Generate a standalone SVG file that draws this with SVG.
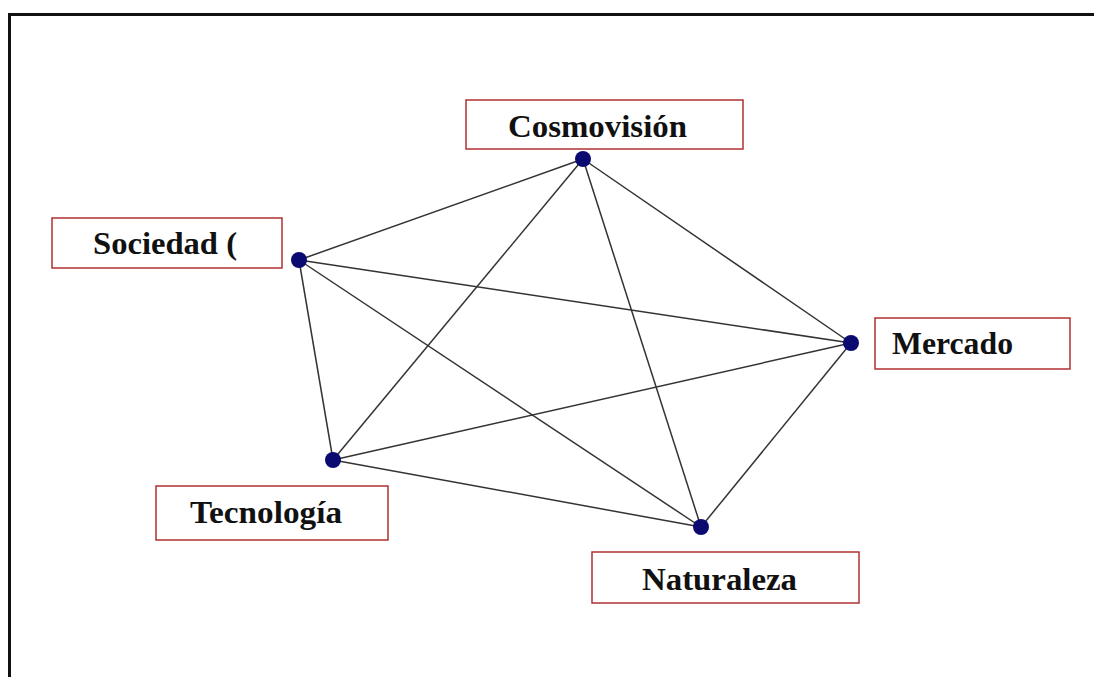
<svg xmlns="http://www.w3.org/2000/svg" width="1094" height="677" viewBox="0 0 1094 677">
<style>
.box{fill:#ffffff;stroke:#b03030;stroke-width:1.5}
.lbl{font-family:"Liberation Serif","Times New Roman",serif;font-weight:bold;font-size:31px;fill:#111}
.edge{stroke:#333;stroke-width:1.5;fill:none}
.dot{fill:#0a0a70}
</style>
<rect x="0" y="0" width="1094" height="677" fill="#ffffff"/>
<path d="M9.5 677 V14.5 H1094" fill="none" stroke="#111" stroke-width="3"/>
<g id="connectors">
<line class="edge" x1="583" y1="159" x2="299" y2="260"/>
<line class="edge" x1="583" y1="159" x2="333" y2="460"/>
<line class="edge" x1="583" y1="159" x2="701" y2="527"/>
<line class="edge" x1="583" y1="159" x2="851" y2="343"/>
<line class="edge" x1="299" y1="260" x2="851" y2="343"/>
<line class="edge" x1="299" y1="260" x2="701" y2="527"/>
<line class="edge" x1="299" y1="260" x2="333" y2="460"/>
<line class="edge" x1="333" y1="460" x2="851" y2="343"/>
<line class="edge" x1="333" y1="460" x2="701" y2="527"/>
<line class="edge" x1="701" y1="527" x2="851" y2="343"/>
</g>
<g id="cosmovision">
<rect class="box" x="466" y="100" width="277" height="49"/>
<text class="lbl" x="508" y="137" textLength="179" lengthAdjust="spacingAndGlyphs">Cosmovisión</text>
<circle class="dot" cx="583" cy="159" r="8"/>
</g>
<g id="sociedad">
<rect class="box" x="52" y="218" width="230" height="50"/>
<text class="lbl" x="93" y="254" textLength="144" lengthAdjust="spacingAndGlyphs">Sociedad (</text>
<circle class="dot" cx="299" cy="260" r="8"/>
</g>
<g id="mercado">
<rect class="box" x="875" y="318" width="195" height="51"/>
<text class="lbl" x="892" y="354" textLength="121" lengthAdjust="spacingAndGlyphs">Mercado</text>
<circle class="dot" cx="851" cy="343" r="8"/>
</g>
<g id="tecnologia">
<rect class="box" x="156" y="486" width="232" height="54"/>
<text class="lbl" x="190" y="523" textLength="152" lengthAdjust="spacingAndGlyphs">Tecnología</text>
<circle class="dot" cx="333" cy="460" r="8"/>
</g>
<g id="naturaleza">
<rect class="box" x="592" y="552" width="267" height="51"/>
<text class="lbl" x="642" y="590" textLength="155" lengthAdjust="spacingAndGlyphs">Naturaleza</text>
<circle class="dot" cx="701" cy="527" r="8"/>
</g>
</svg>
